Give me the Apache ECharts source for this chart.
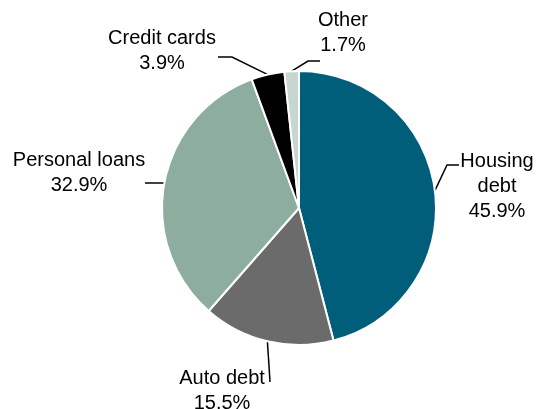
<!DOCTYPE html>
<html><head><meta charset="utf-8">
<script src="https://cdn.jsdelivr.net/npm/echarts@6/dist/echarts.min.js"></script>
<style>html,body{margin:0;padding:0;background:#fff}#c{width:539px;height:409px}</style>
</head><body><div id="c"></div>
<script>
const categories = ['Housing\ndebt', 'Auto debt', 'Personal loans', 'Credit cards', 'Other'];
const values = [45.9, 15.5, 32.9, 3.9, 1.7];
const colors = ['#005E7B', '#6B6B6B', '#8DAE9F', '#000000', '#C6D6D1'];
const labelPos = [[497, 186], [222, 391], [79, 173], [162, 51], [343, 33]];
// leader-line bend/end points (start point comes from the slice itself)
const leaderPts = [
  [[447, 165], [459, 165]],
  [[270, 382]],
  [[145, 183]],
  [[232, 57], [218, 57]],
  [[308, 61], [320, 61]]
];

const chart = echarts.init(document.getElementById('c'), null, {renderer: 'canvas'});
chart.setOption({
  animation: false,
  series: [{
    type: 'pie',
    center: [299, 208],
    radius: [0, 137],
    startAngle: 90,
    clockwise: true,
    data: categories.map((c, i) => ({name: c, value: values[i], itemStyle: {color: colors[i]}})),
    itemStyle: {borderColor: '#fff', borderWidth: 2},
    label: {
      show: true,
      formatter: p => p.name + '\n' + p.value.toFixed(1) + '%',
      fontFamily: 'Liberation Sans, Arial, sans-serif',
      fontSize: 20,
      lineHeight: 25,
      color: '#000',
      align: 'center',
      overflow: 'none'
    },
    labelLine: {show: true, lineStyle: {color: '#000', width: 1.5}, length: 10, length2: 10},
    labelLayout: p => {
      const res = {
        x: labelPos[p.dataIndex][0],
        y: labelPos[p.dataIndex][1],
        align: 'center',
        verticalAlign: 'middle'
      };
      if (p.labelLinePoints && p.labelLinePoints[0]) {
        res.labelLinePoints = [p.labelLinePoints[0].slice()].concat(leaderPts[p.dataIndex]);
      }
      return res;
    }
  }]
});
</script></body></html>
